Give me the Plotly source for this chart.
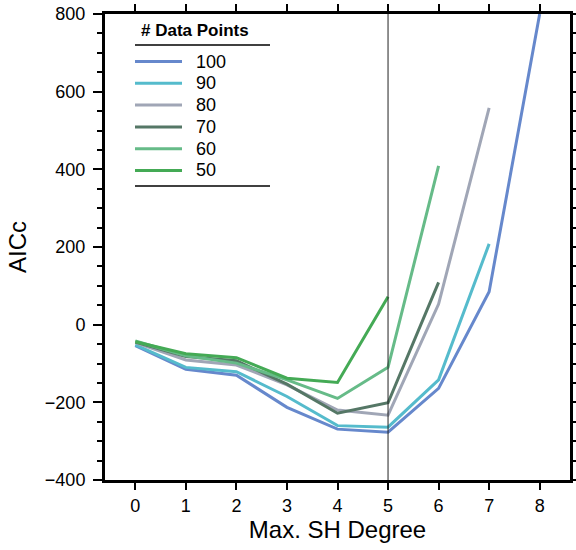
import plotly.graph_objects as go

# Max. SH degree on x, AICc on y, one series per number of data points
degrees = [0, 1, 2, 3, 4, 5, 6, 7, 8]
aicc_100 = [-54, -115, -130, -213, -269, -277, -164, 85, 800]
aicc_90 = [-52, -110, -121, -185, -260, -264, -142, 208]
aicc_80 = [-46, -91, -104, -155, -220, -233, 53, 558]
aicc_70 = [-45, -82, -93, -153, -228, -201, 109]
aicc_60 = [-42, -80, -99, -142, -190, -110, 409]
aicc_50 = [-44, -75, -85, -138, -149, 72]
y_ticks = [-400, -200, 0, 200, 400, 600, 800]

labels = ['100', '90', '80', '70', '60', '50']
series = [aicc_100, aicc_90, aicc_80, aicc_70, aicc_60, aicc_50]
colors = ['#6688cc', '#55bbcc', '#a0a6b6', '#557766', '#66bb88', '#44aa55']

font_family = "Liberation Sans, Arial, sans-serif"

W, H = 576, 550
L, R, T, B = 105, 6, 14, 70
pw, ph = W - L - R, H - T - B


# window pixel -> paper coordinates (only for the hand-made legend)
def px(x):
    return (x - L) / pw


def py(y):
    return (T + ph - y) / ph


fig = go.Figure()
for lab, vals, col in zip(labels, series, colors):
    fig.add_trace(go.Scatter(
        x=degrees[:len(vals)], y=vals, mode='lines', name=lab,
        line=dict(color=col, width=3), showlegend=False,
    ))

# reference line at degree 5
fig.add_vline(x=5, line=dict(color='#222222', width=1))

# legend box drawn by hand: title, rules, line samples and labels
fig.add_annotation(xref='paper', yref='paper', x=px(139), y=py(30), xanchor='left', yanchor='middle',
                   text='<b># Data Points</b>', showarrow=False, font=dict(size=17))
for yy in (45, 186):
    fig.add_shape(type='line', xref='paper', yref='paper', x0=px(135), x1=px(270),
                  y0=py(yy), y1=py(yy), line=dict(color='black', width=1.5))
for i, (lab, col) in enumerate(zip(labels, colors)):
    yy = 61.5 + 21.8 * i
    fig.add_shape(type='line', xref='paper', yref='paper', x0=px(135), x1=px(182),
                  y0=py(yy), y1=py(yy), line=dict(color=col, width=3))
    fig.add_annotation(xref='paper', yref='paper', x=px(194), y=py(yy), xanchor='left', yanchor='middle',
                       text=lab, showarrow=False, font=dict(size=18))

fig.update_layout(
    width=W, height=H,
    margin=dict(l=L, r=R, t=T, b=B),
    paper_bgcolor='white', plot_bgcolor='white',
    font=dict(family=font_family, size=18, color='black'),
    showlegend=False,
    xaxis=dict(
        range=[-0.6, 8.6], tickvals=degrees, showgrid=False, zeroline=False, automargin=False,
        showline=True, linecolor='black', linewidth=3, mirror='ticks',
        ticks='outside', ticklen=7, tickwidth=2, tickcolor='black', ticklabelstandoff=0,
        ticklabeloverflow='allow',
        title=dict(text='Max. SH Degree', font=dict(size=24), standoff=4),
    ),
    yaxis=dict(
        range=[-400, 800], tickvals=y_ticks, showgrid=False, zeroline=False, automargin=False,
        showline=True, linecolor='black', linewidth=3, mirror='ticks',
        ticks='outside', ticklen=9, tickwidth=2, tickcolor='black', ticklabelstandoff=4,
        ticklabeloverflow='allow',
        minor=dict(dtick=50, ticks='outside', ticklen=5, tickwidth=1.5, tickcolor='black', showgrid=False),
        title=dict(text='AICc', font=dict(size=24), standoff=12),
    ),
)

# drop the default page margin so the figure sits at the window's corner
fig.write_html("out.html", config={'displayModeBar': False},
               post_script="document.body.style.margin = '0';")
